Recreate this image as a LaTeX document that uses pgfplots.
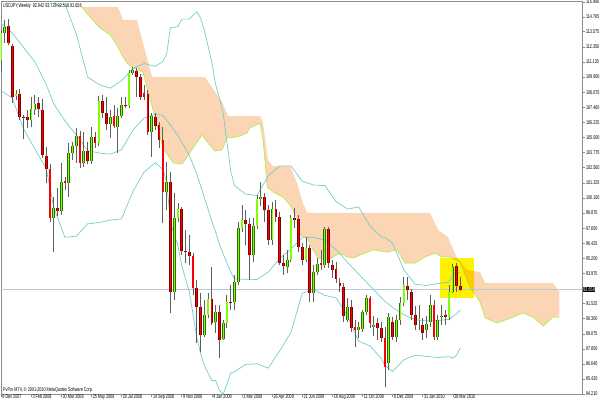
\documentclass[border=0pt]{standalone}
\usepackage{pgfplots}
\usepackage{pgfplotstable}
\pgfplotsset{compat=1.18}
\usepackage{fontspec}
\newfontfamily\mt[FakeStretch=0.68]{Liberation Sans}
\newcommand\tk{\mt\fontsize{5.5}{6}\selectfont}
\definecolor{cloud}{RGB}{252,214,180}
\definecolor{spana}{RGB}{175,235,60}
\definecolor{bb}{RGB}{115,205,205}
\definecolor{bullf}{RGB}{127,255,0}
\definecolor{bulle}{RGB}{40,110,0}
\definecolor{bearf}{RGB}{255,0,0}
\definecolor{beare}{RGB}{125,0,0}
\definecolor{wick}{RGB}{95,95,95}
\definecolor{pline}{RGB}{185,200,212}
\definecolor{frame}{RGB}{140,140,140}

\pgfplotstableread{
k o h l c
0 111.28 113.72 110.31 113.47
1 113.47 114.53 112.66 113.96
4 108.36 108.85 108.04 108.53
8 106.42 108.28 105.85 107.31
9 107.23 108.45 106.82 107.72
14 98.47 100.17 95.71 99.28
16 99.04 102.93 98.71 101.39
18 101.31 104.55 100.17 103.74
19 103.74 104.63 103.17 104.31
20 104.31 105.77 102.93 105.12
22 102.93 105.45 102.61 103.90
24 103.09 105.85 102.85 105.04
26 104.55 108.36 104.31 107.96
29 106.09 107.23 104.96 106.66
31 105.85 107.39 103.74 106.74
32 106.74 108.28 106.58 107.63
34 107.55 110.47 107.39 110.23
35 110.23 110.72 110.07 110.47
40 105.45 106.99 103.42 106.74
44 100.58 103.01 99.12 101.39
46 92.47 100.50 91.82 98.47
47 98.47 99.69 98.15 99.20
54 88.98 91.82 88.82 90.60
55 90.60 92.39 90.36 91.90
57 90.04 91.41 89.14 90.85
59 88.66 90.20 88.57 89.95
60 89.95 92.23 89.55 91.66
62 91.66 93.85 91.01 93.28
63 93.28 98.15 93.04 97.66
64 97.66 99.52 97.34 98.31
67 95.47 98.47 94.90 97.82
68 97.82 100.34 97.58 100.01
69 100.01 101.39 99.44 100.17
72 96.69 99.77 96.28 99.20
76 94.50 95.87 94.01 95.06
77 95.06 98.71 94.90 98.47
81 95.06 96.93 94.90 96.04
83 92.39 94.66 91.66 94.09
84 94.09 95.23 93.85 94.74
86 94.66 97.74 94.42 97.58
92 90.20 91.98 90.04 91.25
95 89.39 90.04 88.74 89.63
96 89.47 91.01 89.23 90.85
97 90.85 92.23 90.60 91.98
99 89.63 90.52 88.90 89.79
103 86.71 90.77 86.14 90.44
105 88.82 90.60 88.41 90.20
106 90.20 92.07 89.79 91.58
107 91.58 93.69 91.33 93.04
111 90.20 91.41 89.39 90.28
113 89.39 90.52 88.74 89.87
114 90.04 92.23 89.63 91.41
116 88.82 90.60 88.57 90.20
117 90.44 91.41 89.79 90.52
119 90.44 93.04 90.20 92.47
120 92.47 94.74 92.39 94.50
}\upc

\pgfplotstableread{
k o h l c
2 114.04 114.61 112.50 112.66
3 112.42 112.58 107.80 108.28
5 108.53 108.93 106.42 106.66
6 106.70 106.82 104.88 106.62
7 106.66 107.23 105.77 106.42
10 107.80 108.28 106.66 107.31
11 107.23 108.12 103.34 103.58
12 103.50 104.23 101.31 102.44
13 102.44 102.85 98.15 98.47
15 99.28 100.90 98.63 99.04
17 101.47 101.80 100.74 101.31
21 105.12 105.53 102.53 102.93
23 103.90 104.63 102.85 103.09
25 105.04 105.45 104.15 104.55
27 107.96 108.45 106.58 106.99
28 106.99 108.28 105.61 106.09
30 106.74 107.63 105.77 105.93
33 107.63 108.28 107.39 107.55
36 110.39 110.63 108.28 109.91
37 109.91 110.15 108.04 108.28
38 108.61 109.26 108.04 108.28
39 108.53 108.85 105.20 105.45
41 106.66 106.99 105.61 105.93
42 106.01 106.25 104.15 104.80
43 104.80 105.85 98.06 100.58
45 101.39 102.20 90.77 92.47
48 99.20 99.36 95.47 95.79
49 95.79 97.50 94.82 95.71
50 95.71 97.09 94.66 95.39
51 95.39 95.63 92.23 92.79
52 92.79 93.44 88.33 91.25
53 91.25 92.39 87.60 88.98
56 91.90 94.50 89.79 89.95
58 90.85 91.41 87.12 88.57
61 91.66 93.04 91.01 91.58
65 98.31 99.12 96.28 97.98
66 97.98 98.47 93.44 95.47
70 100.17 100.50 98.15 99.12
71 99.12 99.52 96.28 96.69
73 99.20 99.93 98.15 98.55
74 98.55 98.96 94.66 94.82
75 94.82 95.47 93.85 94.58
78 98.47 99.28 97.66 98.31
79 98.39 98.71 95.71 96.12
80 96.12 96.44 94.66 95.06
82 96.04 96.28 91.66 92.39
85 94.82 95.87 94.25 94.66
87 97.58 97.74 94.42 94.82
88 94.66 95.06 93.60 94.25
89 94.33 94.90 93.20 93.52
90 93.20 93.60 92.47 92.96
91 92.87 93.20 90.04 90.52
93 91.25 91.82 89.23 89.55
94 89.63 90.20 88.01 89.39
98 91.98 92.15 89.55 89.95
100 89.95 90.36 88.57 89.55
101 89.55 90.04 88.41 88.74
102 88.74 89.63 84.77 86.39
104 90.04 90.44 88.57 88.82
108 92.96 93.69 91.82 92.63
109 92.47 92.71 90.20 90.60
110 90.60 91.33 89.39 89.79
112 89.79 90.36 88.57 89.15
115 91.41 91.82 88.57 88.82
118 90.60 91.01 89.79 90.44
121 94.58 94.82 92.47 92.96
122 92.942 93.728 92.518 92.658
}\downc

\begin{document}
\begin{tikzpicture}
\useasboundingbox (-1pt,-10pt) rectangle (599pt,394pt);
\begin{axis}[
  at={(0,0)}, anchor=south west,
  scale only axis, width=581pt, height=392.5pt,
  xmin=0, xmax=154.3, ymin=84.20, ymax=116.03,
  clip mode=individual,
  axis line style={frame, line width=0.6pt},
  tick style={frame, line width=0.6pt},
  tick align=outside, major tick length=3pt,
  xtick pos=bottom, ytick pos=right,
  yticklabel pos=right,
  xtick={0,8,...,120},
  xticklabels={9 Dec 2007,3 Feb 2008,30 Mar 2008,25 May 2008,20 Jul 2008,14 Sep 2008,9 Nov 2008,4 Jan 2009,1 Mar 2009,26 Apr 2009,21 Jun 2009,16 Aug 2009,11 Oct 2009,6 Dec 2009,31 Jan 2010,28 Mar 2010},
  xticklabel style={font=\tk, anchor=north west, inner sep=0pt, xshift=1.2pt, yshift=2.2pt, text=black},
  ytick={115.990,114.765,113.575,112.350,111.135,109.900,108.675,107.460,106.225,105.000,103.775,102.560,101.325,100.100,98.875,97.650,96.425,95.200,93.975,91.525,90.300,89.075,87.850,86.640,85.420,84.210},
  yticklabels={115.990,114.765,113.575,112.350,111.135,109.900,108.675,107.460,106.225,105.000,103.775,102.560,101.325,100.100,98.875,97.650,96.425,95.200,93.975,91.525,90.300,89.075,87.850,86.640,85.420,84.210},
  yticklabel style={font=\tk, anchor=west, inner sep=0pt, xshift=0.8pt, text=black},
]
% Ichimoku cloud
\addplot[fill=cloud, draw=none] coordinates {
(21.5,115.58) (31.1,115.58) (32.4,114.53) (36.1,114.53) (40.1,109.91) (54.2,109.9) (56.0,109.09) (58.7,107.88) (60.3,106.74) (68.8,106.74) (69.6,106.17) (70.9,103.17) (72.2,102.69) (76.8,102.69) (78.6,101.31) (80.2,99.69) (81.3,98.88) (113.9,98.88) (116.1,97.50) (118.7,96.93) (119.8,96.12) (121.1,95.23) (123.8,94.25) (127.2,94.09) (128.6,93.20) (146.6,93.20) (148.3,92.47)
(148.3,90.44) (146.6,90.44) (144.0,89.71) (141.3,90.44) (138.6,90.77) (136.0,90.44) (131.7,89.95) (128.6,90.36) (127.2,91.66) (124.6,92.87) (121.9,94.90) (119.3,95.31) (117.1,95.31) (115.3,95.63) (112.6,95.31) (110.0,94.82) (107.3,94.82) (105.2,95.88) (102.5,95.71) (98.8,95.88) (95.4,95.47) (93.5,95.23) (91.9,95.31) (90.0,95.63) (88.2,95.31) (86.6,95.06) (84.2,95.23) (82.9,95.88) (81.3,96.85) (79.4,97.09) (78.6,98.47) (76.8,99.52) (74.9,100.17) (72.2,100.58) (70.7,100.98) (69.6,104.80) (68.8,106.17) (66.1,105.77) (65.3,105.36) (62.7,105.04) (60.0,104.96) (58.7,103.98) (56.8,103.90) (55.0,104.55) (53.4,105.20) (51.0,104.15) (49.4,103.42) (48.1,102.85) (45.7,102.93) (43.0,104.15) (40.4,107.23) (38.8,109.01) (37.7,110.31) (35.1,110.63) (33.5,111.04) (32.1,111.69) (30.8,112.50) (29.0,113.31) (26.3,113.88) (23.6,114.77) (21.5,115.58)};
% Senkou span A
\addplot[spana, line width=0.6pt] coordinates {
(21.5,115.58) (23.6,114.77) (26.3,113.88) (29.0,113.31) (30.8,112.50) (32.1,111.69) (33.5,111.04) (35.1,110.63) (37.7,110.31) (38.8,109.01) (40.4,107.23) (43.0,104.15) (45.7,102.93) (48.1,102.85) (49.4,103.42) (51.0,104.15) (53.4,105.20) (55.0,104.55) (56.8,103.90) (58.7,103.98) (60.0,104.96) (62.7,105.04) (65.3,105.36) (66.1,105.77) (68.8,106.17) (69.6,104.80) (70.7,100.98) (72.2,100.58) (74.9,100.17) (76.8,99.52) (78.6,98.47) (79.4,97.09) (81.3,96.85) (82.9,95.88) (84.2,95.23) (86.6,95.06) (88.2,95.31) (90.0,95.63) (91.9,95.31) (93.5,95.23) (95.4,95.47) (98.8,95.88) (102.5,95.71) (105.2,95.88) (107.3,94.82) (110.0,94.82) (112.6,95.31) (115.3,95.63) (117.1,95.31) (119.3,95.31) (121.9,94.90) (124.6,92.87) (127.2,91.66) (128.6,90.36) (131.7,89.95) (136.0,90.44) (138.6,90.77) (141.3,90.44) (144.0,89.71) (146.6,90.44) (148.3,90.44)};
% highlight box
\fill[yellow, blend mode=multiply] (axis cs:116.6,91.98) rectangle (axis cs:125.6,95.23);
% Bollinger bands
\addplot[bb, line width=0.7pt] coordinates {
(0,119.8) (3,118.7) (6,118.9) (9,118.2) (12,116.1) (14,116.07) (15,115.7) (17,115.8) (20,113.4) (23,109.9) (26,109.3) (29,109.0) (32,109.6) (35,110.6) (38,111.0) (41,110.77) (43,111.17) (44,111.8) (45,113.9) (47,114.0) (48,114.6) (50,114.6) (52,115.2) (53,114.7) (54,113.7) (56,111.1) (57,109.3) (58,108.2) (59,107.0) (60,104.6) (61,102.3) (62,101.1) (65,100.4) (68,100.3) (71,101.9) (74,102.7) (77,102.7) (80,101.45) (83,101.15) (86,101.1) (89,99.8) (92,99.2) (95,99.36) (98,97.83) (101,96.95) (102,96.9) (104,96.43) (107,94.26) (110,93.1) (113,93.0) (116,93.16) (119,93.27) (120,93.9) (121,94.07) (122,94.08)};
\addplot[bb, line width=0.7pt] coordinates {
(0,114.29) (3,113.47) (6,112.3) (9,111.13) (12,109.3) (14,107.73) (17,106.34) (20,105.2) (23,103.95) (26,103.74) (29,103.65) (32,104.0) (35,105.58) (38,106.58) (41,106.87) (43,106.79) (45,106.0) (47,105.14) (48,104.62) (50,103.56) (52,102.04) (53,101.1) (54,100.13) (56,98.2) (57,97.33) (58,96.35) (59,95.57) (60,94.82) (61,94.1) (62,93.54) (65,93.5) (68,93.49) (71,94.09) (74,95.18) (77,95.95) (80,96.91) (83,96.91) (86,96.67) (89,95.9) (92,94.89) (95,93.92) (98,92.97) (101,92.01) (102,91.71) (104,91.23) (107,90.62) (110,90.23) (113,90.13) (116,90.16) (119,90.25) (120,90.49) (121,90.71) (122,91.02)};
\addplot[bb, line width=0.7pt] coordinates {
(0,108.79) (3,108.2) (6,105.7) (9,104.07) (12,102.5) (14,99.39) (15,98.5) (17,96.9) (20,97.0) (23,98.0) (26,98.1) (29,98.3) (32,98.4) (35,100.6) (38,102.2) (41,102.97) (43,102.4) (44,101.4) (45,98.1) (47,96.2) (48,94.6) (50,92.5) (52,88.8) (53,87.5) (54,86.5) (56,85.3) (57,85.3) (58,84.5) (59,84.2) (60,85.0) (61,85.9) (62,86.0) (65,86.6) (68,86.65) (71,86.3) (74,87.7) (77,89.2) (80,92.37) (83,92.67) (86,92.2) (89,92.0) (92,90.55) (95,88.48) (98,88.1) (101,87.07) (102,86.5) (104,86.03) (107,86.98) (110,87.35) (113,87.25) (116,87.16) (119,87.23) (120,87.1) (121,87.35) (122,87.96)};
% current price line
\addplot[pline, line width=0.6pt] coordinates {(0,92.658) (154.3,92.658)};
% wicks
\addplot[draw=none, error bars/.cd, y dir=plus, y explicit, error mark=none, error bar style={wick, line width=0.9pt}]
  table[x=k, y=l, y error plus expr=\thisrow{h}-\thisrow{l}] {\upc};
\addplot[draw=none, error bars/.cd, y dir=plus, y explicit, error mark=none, error bar style={wick, line width=0.9pt}]
  table[x=k, y=l, y error plus expr=\thisrow{h}-\thisrow{l}] {\downc};
% bodies
\addplot[draw=none, error bars/.cd, y dir=plus, y explicit, error mark=none, error bar style={bulle, line width=2.7pt}]
  table[x=k, y=o, y error plus expr=\thisrow{c}-\thisrow{o}] {\upc};
\addplot[draw=none, error bars/.cd, y dir=plus, y explicit, error mark=none, error bar style={bullf, line width=1.2pt}]
  table[x=k, y=o, y error plus expr=\thisrow{c}-\thisrow{o}] {\upc};
\addplot[draw=none, error bars/.cd, y dir=plus, y explicit, error mark=none, error bar style={beare, line width=2.7pt}]
  table[x=k, y=c, y error plus expr=\thisrow{o}-\thisrow{c}] {\downc};
\addplot[draw=none, error bars/.cd, y dir=plus, y explicit, error mark=none, error bar style={bearf, line width=1.2pt}]
  table[x=k, y=c, y error plus expr=\thisrow{o}-\thisrow{c}] {\downc};
% texts
\node[font=\tk, anchor=north west, inner sep=0pt] at (rel axis cs:0,1) [xshift=2pt, yshift=-2pt] {USDJPY,Weekly\ \ 92.942 93.728 92.518 92.658};
\node[font=\tk, anchor=south west, inner sep=0pt] at (rel axis cs:0,0) [xshift=2pt, yshift=0.8pt] {PvPro MT4, \textcopyright\ 2001-2010 MetaQuotes Software Corp.};
\node[font=\tk, fill=black, text=white, anchor=west, inner sep=0.6pt] at (axis cs:154.3,92.658) [xshift=0.6pt] {92.658};
\end{axis}
\end{tikzpicture}
\end{document}
